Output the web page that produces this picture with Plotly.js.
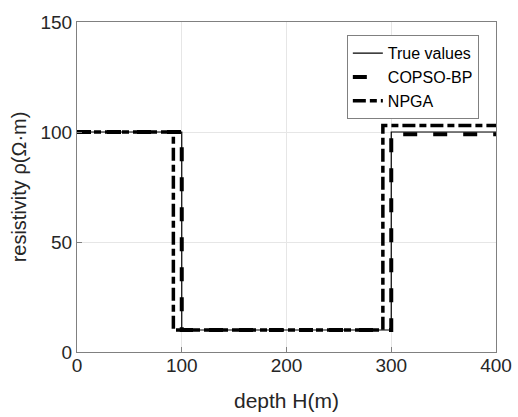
<!DOCTYPE html>
<html>
<head>
<meta charset="utf-8">
<script src="https://cdn.plot.ly/plotly-3.0.1.min.js"></script>
<style>html,body{margin:0;padding:0;background:#fff;}#chart{width:518px;height:417px;}</style>
</head>
<body>
<div id="chart"></div>
<script>
// Layer top depths (m) and resistivities (Ω·m), drawn as step profiles
const trueDepth  = [0, 100, 300, 400];
const trueRho    = [100, 10, 100, 100];
const copsoDepth = [0, 100, 300, 400];
const copsoRho   = [100, 10, 99, 99];
const npgaDepth  = [0, 92, 292, 400];
const npgaRho    = [100, 10, 103, 103];
const seriesNames = ["True values", "COPSO-BP", "NPGA"];
const xTicks = [0, 100, 200, 300, 400];
const yTicks = [0, 50, 100, 150];

const font = "Arial, 'Liberation Sans', sans-serif";
const traces = [
  {x: trueDepth, y: trueRho, name: seriesNames[0], mode: "lines",
   line: {shape: "hv", color: "#000", width: 1.2}},
  {x: copsoDepth, y: copsoRho, name: seriesNames[1], mode: "lines",
   line: {shape: "hv", color: "#000", width: 4, dash: "14px,16px"}},
  {x: npgaDepth, y: npgaRho, name: seriesNames[2], mode: "lines",
   line: {shape: "hv", color: "#000", width: 3.5, dash: "13px,4px,7px,4px"}}
];

const axisCommon = {
  showline: true, mirror: true, linecolor: "#808080", linewidth: 1,
  showgrid: true, gridcolor: "#e6e6e6", gridwidth: 1,
  zeroline: false, ticks: "inside", ticklen: 5, tickcolor: "#808080",
  tickfont: {family: font, size: 19, color: "#262626"}
};

const layout = {
  width: 518, height: 417,
  margin: {l: 77, r: 22, t: 22, b: 65},
  paper_bgcolor: "#fff", plot_bgcolor: "#fff",
  showlegend: true,
  legend: {x: 0.644, y: 0.96, xanchor: "left", yanchor: "top",
    bgcolor: "#fff", bordercolor: "#808080", borderwidth: 1,
    font: {family: font, size: 16, color: "#000"},
    itemwidth: 30, tracegroupgap: 0},
  xaxis: Object.assign({}, axisCommon, {
    range: [0, 400], tickvals: xTicks, ticklabelstandoff: -4,
    title: {text: "depth H(m)", font: {family: font, size: 21, color: "#262626"}, standoff: 18}
  }),
  yaxis: Object.assign({}, axisCommon, {
    range: [0, 150], tickvals: yTicks,
    title: {text: "resistivity ρ(Ω·m)", font: {family: font, size: 20, color: "#262626"}, standoff: 8}
  })
};

Plotly.newPlot("chart", traces, layout, {displayModeBar: false, staticPlot: true});
</script>
</body>
</html>
